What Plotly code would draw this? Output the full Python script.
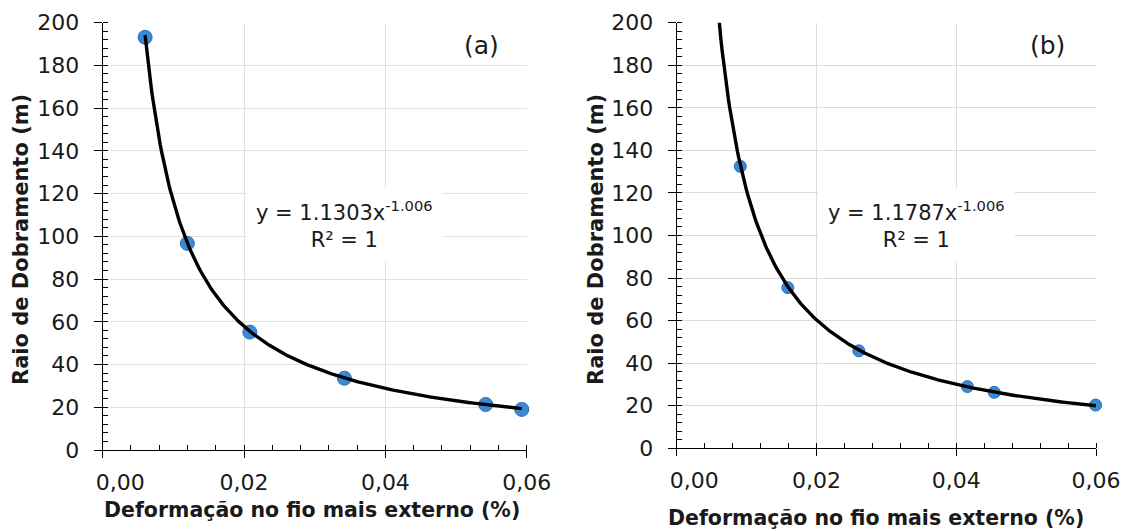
import numpy as np
import plotly.graph_objects as go

# ---------------- data ----------------
strain_a = [0.0060, 0.01198, 0.02082, 0.0342, 0.0542, 0.0593]
radius_a = [193.2, 96.7, 55.2, 33.6, 21.3, 19.0]
strain_b = [0.0091, 0.0159, 0.02606, 0.0416, 0.04544, 0.05994]
radius_b = [132.5, 75.5, 45.8, 29.0, 26.3, 20.3]

# displayed power-law trendlines  y = c * x^p
coef_a, pow_a = 1.1303, -1.006
coef_b, pow_b = 1.1787, -1.006
fit_span_a = [0.0060, 0.0593]
fit_span_b = [0.0054, 0.0600]

x_tick_vals = [0.0, 0.02, 0.04, 0.06]
x_tick_text = ["\u00a0\u00a0\u00a0\u00a0\u00a00,00", "0,02", "0,04", "0,06"]
y_tick_vals = [0, 20, 40, 60, 80, 100, 120, 140, 160, 180, 200]

eq_a = "y = 1.1303x<sup>-1.006</sup><br>R² = 1"
eq_b = "y = 1.1787x<sup>-1.006</sup><br>R² = 1"
panel_labels = ["(a)", "(b)"]
x_title = "Deformação no fio mais externo (%)"
y_title = "Raio de Dobramento (m)"

W, H = 1128, 531
OFF = 8  # page body margin
FONT = "DejaVu Sans"
TXT = "#1a1a1a"
GRID_A = "#e2e2da"
GRID_B = "#dcdcdc"
BLUE = "#3a8ad6"

def px(x):
    return (x - OFF) / W

def py(y):
    return 1 - (y - OFF) / H

fig = go.Figure()

def add_panel(idx, xs, ys, c, p, span, msize):
    sfx = "" if idx == 1 else str(idx)
    fig.add_trace(go.Scatter(
        x=xs, y=ys, mode="markers", xaxis="x" + sfx, yaxis="y" + sfx,
        marker=dict(size=msize, color=BLUE, line=dict(color="#2a6fb8", width=1)),
        cliponaxis=False, showlegend=False, hoverinfo="x+y"))
    xf = np.linspace(span[0], span[1], 300)
    yf = c * xf ** p
    fig.add_trace(go.Scatter(
        x=xf, y=yf, mode="lines", xaxis="x" + sfx, yaxis="y" + sfx,
        line=dict(color="black", width=3.4), showlegend=False, hoverinfo="skip"))

add_panel(1, strain_a, radius_a, coef_a, pow_a, fit_span_a, 14)
add_panel(2, strain_b, radius_b, coef_b, pow_b, fit_span_b, 12)

# invisible traces on overlay axes (inner halves of the crossing major ticks)
for xa, ya in [("x3", "y3"), ("x4", "y4")]:
    fig.add_trace(go.Scatter(x=[0], y=[0], xaxis=xa, yaxis=ya, mode="markers",
                             marker=dict(opacity=0), showlegend=False, hoverinfo="skip"))

tickfont = dict(family=FONT, size=22, color=TXT)

def xaxis_main(domain, anchor, grid):
    return dict(domain=domain, anchor=anchor, range=[0, 0.06],
                tickmode="array", tickvals=x_tick_vals, ticktext=x_tick_text,
                showgrid=True, gridcolor=grid, gridwidth=1,
                showline=True, linecolor="black", linewidth=1.3,
                ticks="outside", ticklen=7, tickwidth=1.3, tickcolor="black",
                minor=dict(dtick=0.004, tick0=0, ticks="inside", ticklen=5, tickwidth=1,
                           tickcolor="black", showgrid=False),
                tickfont=tickfont, ticklabelstandoff=5, zeroline=False,
                fixedrange=True, automargin=False)

def yaxis_main(domain, anchor, grid):
    return dict(domain=domain, anchor=anchor, range=[0, 200],
                tickmode="array", tickvals=y_tick_vals,
                showgrid=True, gridcolor=grid, gridwidth=1,
                showline=True, linecolor="black", linewidth=1.3,
                ticks="outside", ticklen=8, tickwidth=1.3, tickcolor="black",
                minor=dict(dtick=4, tick0=0, ticks="inside", ticklen=5, tickwidth=1,
                           tickcolor="black", showgrid=False),
                tickfont=tickfont, ticklabelstandoff=10, zeroline=False,
                fixedrange=True, automargin=False)

def xaxis_over(domain, anchor, over):
    return dict(domain=domain, anchor=anchor, overlaying=over, range=[0, 0.06],
                tickmode="array", tickvals=x_tick_vals,
                showgrid=False, showline=False, ticks="inside",
                ticklen=5, tickwidth=1.3, tickcolor="black", showticklabels=False,
                zeroline=False, fixedrange=True, automargin=False)

def yaxis_over(domain, anchor, over):
    return dict(domain=domain, anchor=anchor, overlaying=over, range=[0, 200],
                tickmode="array", tickvals=y_tick_vals,
                showgrid=False, showline=False, ticks="inside",
                ticklen=5, tickwidth=1.3, tickcolor="black", showticklabels=False,
                zeroline=False, fixedrange=True, automargin=False)

dxa = [px(102.7), px(526.7)]
dya = [py(450.0), py(22.7)]
dxb = [px(676.7), px(1096.0)]
dyb = [py(448.3), py(22.7)]

fig.update_layout(
    width=W, height=H, margin=dict(l=0, r=0, t=0, b=0, autoexpand=False),
    paper_bgcolor="white", plot_bgcolor="white", separators=",.",
    showlegend=False,
    xaxis=xaxis_main(dxa, "y", GRID_A), yaxis=yaxis_main(dya, "x", GRID_A),
    xaxis2=xaxis_main(dxb, "y2", GRID_B), yaxis2=yaxis_main(dyb, "x2", GRID_B),
    xaxis3=xaxis_over(dxa, "y3", "x"), yaxis3=yaxis_over(dya, "x3", "y"),
    xaxis4=xaxis_over(dxb, "y4", "x2"), yaxis4=yaxis_over(dyb, "x4", "y2"),
)

ann = []
# axis titles
for cx, cy in [(311.5, 510), (875.6, 518)]:
    ann.append(dict(text=x_title, x=px(cx), y=py(cy), xref="paper", yref="paper",
                    xanchor="center", yanchor="middle", showarrow=False,
                    font=dict(family=FONT, size=20.5, color=TXT, weight="bold")))
for cx, cy in [(21, 240), (596, 240)]:
    ann.append(dict(text=y_title, x=px(cx), y=py(cy), xref="paper", yref="paper",
                    xanchor="center", yanchor="middle", showarrow=False, textangle=-90,
                    font=dict(family=FONT, size=21, color=TXT, weight="bold")))
# panel labels
for lab, cx in zip(panel_labels, [481.7, 1047]):
    ann.append(dict(text=lab, x=px(cx), y=py(45), xref="paper", yref="paper",
                    xanchor="center", yanchor="middle", showarrow=False,
                    font=dict(family=FONT, size=25, color=TXT)))
# equations
for eq, cx in zip([eq_a, eq_b], [345, 916]):
    ann.append(dict(text=eq, x=px(cx), y=py(224), xref="paper", yref="paper",
                    xanchor="center", yanchor="middle", showarrow=False, align="center",
                    bgcolor="white", borderpad=9,
                    font=dict(family=FONT, size=21, color=TXT)))
fig.update_layout(annotations=ann)

fig.write_html("out.html")
